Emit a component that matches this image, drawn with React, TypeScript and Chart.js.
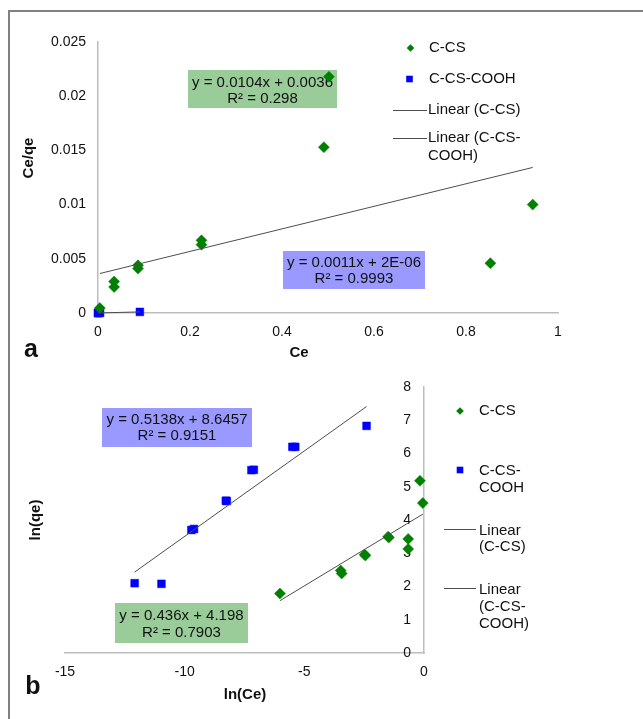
import React, { useEffect, useRef } from "react";
import { Chart, registerables } from "chart.js";

Chart.register(...registerables);

const FONT = '"Liberation Sans", Arial, sans-serif';
const TEXT = "#111111";
const GREEN = "#008000";
const BLUE = "#0000ff";
const TREND = "#4d4d4d";
const AXIS = "#bdbdbd";
const BOX_GREEN = "#99cc99";
const BOX_BLUE = "#9999ff";

// ---------- shared series names ----------
const seriesNames = ["C-CS", "C-CS-COOH"];
const trendNames = ["Linear (C-CS)", "Linear (C-CS-COOH)"];

// ---------- panel a : Ce vs Ce/qe ----------
const aCeCCS = [0.004, 0.035, 0.035, 0.087, 0.087, 0.225, 0.225, 0.491, 0.502, 0.853, 0.945];
const aCeqeCCS = [0.00046, 0.0029, 0.0024, 0.0044, 0.0041, 0.0067, 0.0063, 0.0153, 0.0218, 0.0046, 0.01];
const aCeCOOH = [0.0001, 0.0003, 0.0008, 0.0045, 0.091];
const aCeqeCOOH = [0.000001, 0.000002, 0.000003, 0.00001, 0.0001];
const aSlopes = [0.0104, 0.0011];
const aIntercepts = [0.0036, 0.000002];
const aEquations = ["y = 0.0104x + 0.0036", "y = 0.0011x + 2E-06"];
const aR2 = ["R² = 0.298", "R² = 0.9993"];
const aXTicks = [0, 0.2, 0.4, 0.6, 0.8, 1];
const aYTicks = [0, 0.005, 0.01, 0.015, 0.02, 0.025];

// ---------- panel b : ln(Ce) vs ln(qe) ----------
const bLnCeCCS = [-6.02, -3.48, -3.44, -2.48, -2.45, -1.5, -1.47, -0.66, -0.66, -0.17, -0.05];
const bLnQeCCS = [1.79, 2.48, 2.39, 2.96, 2.93, 3.5, 3.47, 3.43, 3.13, 5.18, 4.51];
const bLnCeCOOH = [-12.09, -10.97, -9.72, -9.61, -8.28, -8.24, -7.21, -7.11, -5.5, -5.38, -2.4];
const bLnQeCOOH = [2.1, 2.08, 3.7, 3.73, 4.58, 4.57, 5.5, 5.51, 6.2, 6.2, 6.83];
const bSlopes = [0.436, 0.5138];
const bIntercepts = [4.198, 8.6457];
const bEquations = ["y = 0.436x + 4.198", "y = 0.5138x + 8.6457"];
const bR2 = ["R² = 0.7903", "R² = 0.9151"];
const bXTicks = [-15, -10, -5, 0];
const bYTicks = [0, 1, 2, 3, 4, 5, 6, 7, 8];

function pts(xs: number[], ys: number[]) {
  return xs.map((x, i) => ({ x, y: ys[i] }));
}

function trend(xs: number[], slope: number, intercept: number) {
  const lo = Math.min(...xs);
  const hi = Math.max(...xs);
  return [
    { x: lo, y: slope * lo + intercept },
    { x: hi, y: slope * hi + intercept },
  ];
}

function fmt(v: number) {
  return String(+Number(v).toFixed(4));
}

function drawMarker(ctx: CanvasRenderingContext2D, style: string, color: string, x: number, y: number, r: number) {
  ctx.save();
  ctx.fillStyle = color;
  ctx.beginPath();
  if (style === "rectRot") {
    ctx.moveTo(x, y - r);
    ctx.lineTo(x + r, y);
    ctx.lineTo(x, y + r);
    ctx.lineTo(x - r, y);
    ctx.closePath();
  } else {
    ctx.rect(x - r, y - r, 2 * r, 2 * r);
  }
  ctx.fill();
  ctx.restore();
}

type Box = { x: number; y: number; w: number; h: number; fill: string; lines: string[]; ly: number[] };
type Txt = { text: string; x: number; y: number; size: number; bold?: boolean; rotate?: boolean };
type LegendItem = { ds: number; kind: "marker" | "line"; mx: number; my: number; x1?: number; x2?: number; tx: number; lines: string[]; ly: number[]; r?: number };
type Spec = { boxes: Box[]; texts: Txt[]; legend: LegendItem[]; yLabels?: { values: number[]; gap: number } };

const TICK_SIZE = 14;

function makeDeco(spec: Spec) {
  return {
    id: "deco",
    beforeDatasetsDraw(chart: any) {
      const ctx: CanvasRenderingContext2D = chart.ctx;
      ctx.save();
      if (spec.yLabels) {
        const ys = chart.scales.y;
        ctx.fillStyle = TEXT;
        ctx.font = `${TICK_SIZE}px ${FONT}`;
        ctx.textAlign = "right";
        ctx.textBaseline = "middle";
        for (const v of spec.yLabels.values) {
          ctx.fillText(fmt(v), chart.chartArea.right - spec.yLabels.gap, ys.getPixelForValue(v));
        }
      }
      for (const b of spec.boxes) {
        ctx.fillStyle = b.fill;
        ctx.fillRect(b.x, b.y, b.w, b.h);
        ctx.fillStyle = TEXT;
        ctx.font = `15px ${FONT}`;
        ctx.textAlign = "center";
        ctx.textBaseline = "middle";
        b.lines.forEach((t, i) => ctx.fillText(t, b.x + b.w / 2, b.ly[i]));
      }
      ctx.restore();
    },
    afterDraw(chart: any) {
      const ctx: CanvasRenderingContext2D = chart.ctx;
      ctx.save();
      for (const t of spec.texts) {
        ctx.save();
        ctx.fillStyle = TEXT;
        ctx.font = `${t.bold ? "bold " : ""}${t.size}px ${FONT}`;
        ctx.textAlign = "center";
        ctx.textBaseline = "middle";
        ctx.translate(t.x, t.y);
        if (t.rotate) ctx.rotate(-Math.PI / 2);
        ctx.fillText(t.text, 0, 0);
        ctx.restore();
      }
      for (const it of spec.legend) {
        const ds = chart.data.datasets[it.ds];
        if (it.kind === "marker") {
          drawMarker(ctx, ds.pointStyle, ds.backgroundColor, it.mx, it.my, it.r ?? 4);
        } else {
          ctx.strokeStyle = ds.borderColor;
          ctx.lineWidth = 1;
          ctx.beginPath();
          ctx.moveTo(it.x1!, it.my + 0.5);
          ctx.lineTo(it.x2!, it.my + 0.5);
          ctx.stroke();
        }
        ctx.fillStyle = TEXT;
        ctx.font = `15px ${FONT}`;
        ctx.textAlign = "left";
        ctx.textBaseline = "middle";
        it.lines.forEach((l, i) => ctx.fillText(l, it.tx, it.ly[i]));
      }
      ctx.restore();
    },
  };
}

function scatterSet(label: string, data: any[], color: string, style: string) {
  return {
    label,
    data,
    pointStyle: style,
    backgroundColor: color,
    borderColor: color,
    pointRadius: 5.5,
    pointBorderWidth: 0.5,
    showLine: false,
    clip: false,
    order: 2,
  };
}

function trendSet(label: string, data: any[]) {
  return {
    label,
    data,
    borderColor: TREND,
    backgroundColor: TREND,
    borderWidth: 1,
    pointRadius: 0,
    showLine: true,
    clip: false,
    order: 1,
  };
}

const tickFont = { family: FONT, size: TICK_SIZE };

function buildA(): any {
  return {
    type: "scatter",
    data: {
      datasets: [
        scatterSet(seriesNames[0], pts(aCeCCS, aCeqeCCS), GREEN, "rectRot"),
        scatterSet(seriesNames[1], pts(aCeCOOH, aCeqeCOOH), BLUE, "rect"),
        trendSet(trendNames[0], trend(aCeCCS, aSlopes[0], aIntercepts[0])),
        trendSet(trendNames[1], trend(aCeCOOH, aSlopes[1], aIntercepts[1])),
      ],
    },
    options: {
      responsive: false,
      maintainAspectRatio: false,
      animation: false,
      events: [],
      layout: { padding: { left: 0, top: 42, right: 85, bottom: 0 } },
      plugins: { legend: { display: false }, tooltip: { enabled: false } },
      scales: {
        x: {
          type: "linear",
          min: aXTicks[0],
          max: aXTicks[aXTicks.length - 1],
          afterBuildTicks: (s: any) => { s.ticks = aXTicks.map((v) => ({ value: v })); },
          afterFit: (s: any) => { s.height = 52; },
          grid: { display: false, drawTicks: false },
          border: { display: true, color: AXIS, width: 1.5 },
          ticks: { font: tickFont, color: TEXT, padding: 11, maxRotation: 0, callback: (v: any) => fmt(v) },
        },
        y: {
          type: "linear",
          min: aYTicks[0],
          max: aYTicks[aYTicks.length - 1],
          afterBuildTicks: (s: any) => { s.ticks = aYTicks.map((v) => ({ value: v })); },
          afterFit: (s: any) => { s.width = 98; },
          grid: { display: false, drawTicks: false },
          border: { display: true, color: AXIS, width: 1.5 },
          ticks: { font: tickFont, color: TEXT, padding: 12, callback: (v: any) => fmt(v) },
        },
      },
    },
    plugins: [
      makeDeco({
        boxes: [
          { x: 188, y: 70, w: 149, h: 38, fill: BOX_GREEN, lines: [aEquations[0], aR2[0]], ly: [83, 99] },
          { x: 283, y: 251, w: 142, h: 38, fill: BOX_BLUE, lines: [aEquations[1], aR2[1]], ly: [263, 279] },
        ],
        texts: [
          { text: "Ce/qe", x: 29, y: 158, size: 15, bold: true, rotate: true },
          { text: "Ce", x: 299, y: 353, size: 15, bold: true },
          { text: "a", x: 31, y: 350, size: 25, bold: true },
        ],
        legend: [
          { ds: 0, kind: "marker", mx: 410.5, my: 48, tx: 429, lines: ["C-CS"], ly: [48], r: 3.8 },
          { ds: 1, kind: "marker", mx: 409.5, my: 79, tx: 429, lines: ["C-CS-COOH"], ly: [79], r: 3.3 },
          { ds: 2, kind: "line", mx: 0, my: 110, x1: 393, x2: 427, tx: 428, lines: ["Linear (C-CS)"], ly: [110] },
          { ds: 3, kind: "line", mx: 0, my: 138, x1: 393, x2: 427, tx: 428, lines: ["Linear (C-CS-", "COOH)"], ly: [138, 156] },
        ],
      }),
    ],
  };
}

function buildB(): any {
  return {
    type: "scatter",
    data: {
      datasets: [
        scatterSet(seriesNames[0], pts(bLnCeCCS, bLnQeCCS), GREEN, "rectRot"),
        scatterSet(seriesNames[1], pts(bLnCeCOOH, bLnQeCOOH), BLUE, "rect"),
        trendSet(trendNames[0], trend(bLnCeCCS, bSlopes[0], bIntercepts[0])),
        trendSet(trendNames[1], trend(bLnCeCOOH, bSlopes[1], bIntercepts[1])),
      ],
    },
    options: {
      responsive: false,
      maintainAspectRatio: false,
      animation: false,
      events: [],
      layout: { padding: { left: 65, top: 22, right: 209, bottom: 0 } },
      plugins: { legend: { display: false }, tooltip: { enabled: false } },
      scales: {
        x: {
          type: "linear",
          min: bXTicks[0],
          max: bXTicks[bXTicks.length - 1],
          afterBuildTicks: (s: any) => { s.ticks = bXTicks.map((v) => ({ value: v })); },
          afterFit: (s: any) => { s.height = 66; },
          grid: { display: false, drawTicks: false },
          border: { display: true, color: AXIS, width: 1.5 },
          ticks: { font: tickFont, color: TEXT, padding: 11, maxRotation: 0, callback: (v: any) => fmt(v) },
        },
        y: {
          type: "linear",
          position: "right",
          min: bYTicks[0],
          max: bYTicks[bYTicks.length - 1],
          afterBuildTicks: (s: any) => { s.ticks = bYTicks.map((v) => ({ value: v })); },
          afterFit: (s: any) => { s.width = 10; },
          grid: { display: false, drawTicks: false },
          border: { display: true, color: AXIS, width: 1.5 },
          ticks: { display: false },
        },
      },
    },
    plugins: [
      makeDeco({
        yLabels: { values: bYTicks, gap: 13 },
        boxes: [
          { x: 102, y: 43, w: 150, h: 39, fill: BOX_BLUE, lines: [bEquations[1], bR2[1]], ly: [55, 71] },
          { x: 115, y: 238, w: 133, h: 40, fill: BOX_GREEN, lines: [bEquations[0], bR2[0]], ly: [251, 268] },
        ],
        texts: [
          { text: "ln(qe)", x: 36, y: 155, size: 15, bold: true, rotate: true },
          { text: "ln(Ce)", x: 245, y: 330, size: 15, bold: true },
          { text: "b", x: 33, y: 322, size: 25, bold: true },
        ],
        legend: [
          { ds: 0, kind: "marker", mx: 460, my: 46, tx: 479, lines: ["C-CS"], ly: [46], r: 3.8 },
          { ds: 1, kind: "marker", mx: 460, my: 105, tx: 479, lines: ["C-CS-", "COOH"], ly: [106, 123], r: 3.3 },
          { ds: 2, kind: "line", mx: 0, my: 164, x1: 444, x2: 476, tx: 479, lines: ["Linear", "(C-CS)"], ly: [166, 182] },
          { ds: 3, kind: "line", mx: 0, my: 223, x1: 444, x2: 476, tx: 479, lines: ["Linear", "(C-CS-", "COOH)"], ly: [225, 242, 259] },
        ],
      }),
    ],
  };
}

export default function App() {
  const refA = useRef<HTMLCanvasElement>(null);
  const refB = useRef<HTMLCanvasElement>(null);

  useEffect(() => {
    const ca = new Chart(refA.current as HTMLCanvasElement, buildA());
    const cb = new Chart(refB.current as HTMLCanvasElement, buildB());
    return () => {
      ca.destroy();
      cb.destroy();
    };
  }, []);

  return (
    <div style={{ position: "absolute", left: 0, top: 0, width: 643, height: 719, background: "#fff", overflow: "hidden" }}>
      <div
        style={{
          position: "absolute",
          left: 8,
          top: 10,
          width: 700,
          height: 760,
          borderLeft: "2px solid #808080",
          borderTop: "2px solid #808080",
        }}
      />
      <canvas ref={refA} width={643} height={365} style={{ position: "absolute", left: 0, top: 0, width: 643, height: 365 }} />
      <canvas ref={refB} width={643} height={354} style={{ position: "absolute", left: 0, top: 365, width: 643, height: 354 }} />
    </div>
  );
}
